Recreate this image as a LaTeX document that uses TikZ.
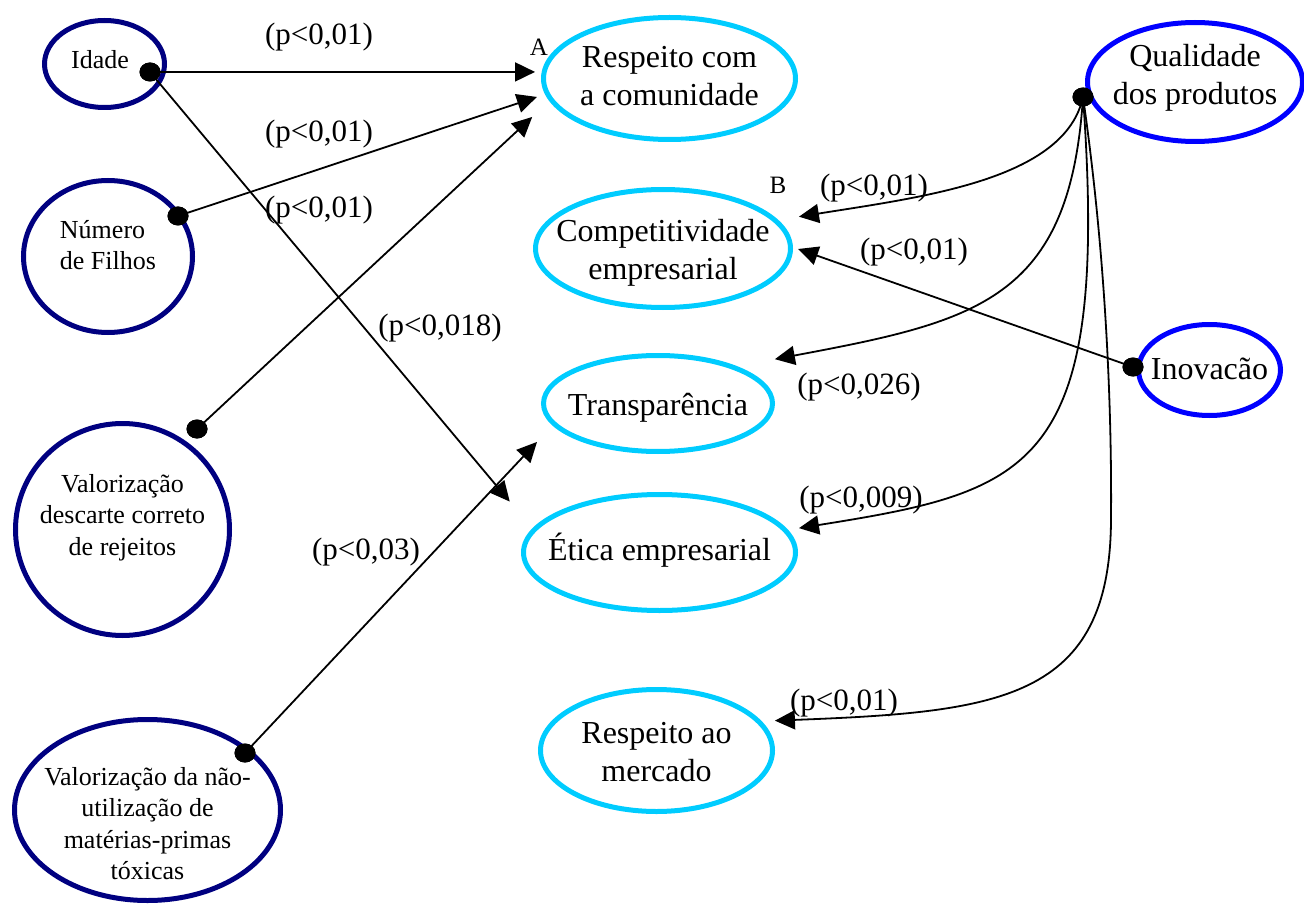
\documentclass[tikz,border=0pt]{standalone}
\usepackage{fontspec}
\setmainfont{Liberation Serif}
\usetikzlibrary{shapes.geometric,arrows.meta}
\definecolor{navyc}{RGB}{0,0,128}
\definecolor{cyanc}{RGB}{0,204,255}
\definecolor{bluec}{RGB}{0,0,255}
\newcommand{\ctext}[3][0pt]{\makebox[0pt][c]{\raisebox{#1}[\height][\depth]{\begin{tabular}{@{}#2@{}}#3\end{tabular}}}}
\tikzset{
  baseell/.style={ellipse, inner sep=0pt, outer sep=0pt, line width=5pt, text=black},
  leftell/.style={baseell, draw=navyc, font=\fontsize{26}{31.5}\selectfont},
  midell/.style={baseell, draw=cyanc, font=\fontsize{32}{38}\selectfont},
  rightell/.style={baseell, draw=bluec, font=\fontsize{32}{38}\selectfont},
  dotn/.style={ellipse, fill=black, inner sep=0pt, minimum width=21pt, minimum height=19pt},
  conn/.style={line width=1.8pt, -{Triangle[length=20pt,width=19pt]}},
  plabel/.style={font=\fontsize{31}{36}\selectfont, inner sep=0pt},
  letterlab/.style={font=\fontsize{25}{30}\selectfont, inner sep=0pt}
}
\begin{document}
\begin{tikzpicture}[x=1pt,y=-1pt]
\useasboundingbox (0,0) rectangle (1304,904);

% left ellipses
\node[leftell, minimum width=120pt, minimum height=87pt] (idade) at (104.5,64) {\ctext[2pt]{c}{\hspace*{-9pt}Idade}};
\node[leftell, minimum width=169pt, minimum height=152pt] (num) at (108,256.5) {\ctext[9pt]{l}{Número\\de Filhos}};
\node[leftell, minimum width=214pt, minimum height=212pt] (desc) at (122.5,529.5) {\ctext[12pt]{c}{Valorização\\descarte correto\\de rejeitos}};
\node[leftell, minimum width=266pt, minimum height=181pt] (nao) at (147.5,810) {\ctext[-16pt]{c}{Valorização da não-\\utilização de\\matérias-primas\\tóxicas}};

% middle ellipses
\node[midell, minimum width=252pt, minimum height=122pt] (resp) at (669.5,78.5) {\ctext{c}{Respeito com\\a comunidade}};
\node[midell, minimum width=255pt, minimum height=118pt] (comp) at (663,248.5) {\ctext[-4.5pt]{c}{Competitividade\\empresarial}};
\node[midell, minimum width=229pt, minimum height=96pt] (transp) at (658,403.5) {\ctext[-4pt]{c}{Transparência}};
\node[midell, minimum width=272pt, minimum height=116pt] (etica) at (659.5,552.5) {\ctext{c}{Ética empresarial}};
\node[midell, minimum width=232pt, minimum height=122pt] (merc) at (656.5,750.5) {\ctext[-4pt]{c}{Respeito ao\\mercado}};

% right ellipses
\node[rightell, minimum width=215pt, minimum height=119pt] (qual) at (1195,82) {\ctext[4pt]{c}{Qualidade\\dos produtos}};
\node[rightell, minimum width=142pt, minimum height=91pt] (inov) at (1209.5,370) {\ctext[-1.5pt]{c}{Inovacão}};

% dots
\node[dotn] (d-idade) at (150,72) {};
\node[dotn] (d-num) at (178,216) {};
\node[dotn] (d-desc) at (197,429) {};
\node[dotn] (d-nao) at (245,753) {};
\node[dotn] (d-qual) at (1083,97) {};
\node[dotn] (d-inov) at (1133,367) {};

% straight connectors
\draw[conn, shorten >=9.2pt] (d-idade.center) -- (resp.177);
\draw[conn, shorten >=11pt] (d-num.center) -- (resp.187);
\draw[conn, shorten >=25.8pt] (d-desc.center) -- (resp.190.6);
\draw[conn, shorten >=37.5pt] (d-idade.center) -- (etica.170.5);
\draw[conn, shorten >=25pt] (d-nao.center) -- (transp.191);
\draw[conn, shorten >=8.2pt] (d-inov.center) -- (comp.1.4);

% curved connectors from Qualidade
\draw[conn, shorten >=24pt] (d-qual.center) .. controls (1065,180) and (922.4,196.9) .. (comp.14.5);
\draw[conn, shorten >=43pt] (d-qual.center) .. controls (1070,300) and (977.5,321.2) .. (transp.26.4);
\draw[conn, shorten >=14pt] (d-qual.center) .. controls (1110,470) and (1031.4,491.1) .. (etica.10.65);
\draw[conn, shorten >=16.6pt] (d-qual.center) .. controls (1105,250) and (1112,400) .. (1111,520) .. controls (1110,700) and (1000,712) .. (merc.16);

% redraw dots on top
\fill (d-idade) ellipse (10.5pt and 9.5pt);
\fill (d-num) ellipse (10.5pt and 9.5pt);
\fill (d-desc) ellipse (10.5pt and 9.5pt);
\fill (d-nao) ellipse (10.5pt and 9.5pt);
\fill (d-qual) ellipse (10.5pt and 9.5pt);
\fill (d-inov) ellipse (10.5pt and 9.5pt);

% labels
\node[plabel] (p1) at (319,37) {(p<0,01)};
\node[plabel] (p2) at (319,134) {(p<0,01)};
\node[plabel] (p3) at (319,210) {(p<0,01)};
\node[plabel] (p4) at (440,328) {(p<0,018)};
\node[plabel] (p5) at (366,552) {(p<0,03)};
\node[plabel] (p6) at (874,188) {(p<0,01)};
\node[plabel] (p7) at (914,252) {(p<0,01)};
\node[plabel] (p8) at (859,387) {(p<0,026)};
\node[plabel] (p9) at (861,500) {(p<0,009)};
\node[plabel] (p10) at (844,703) {(p<0,01)};
\node[letterlab] (la) at (539,47) {A};
\node[letterlab] (lb) at (778,185) {B};
\end{tikzpicture}
\end{document}
